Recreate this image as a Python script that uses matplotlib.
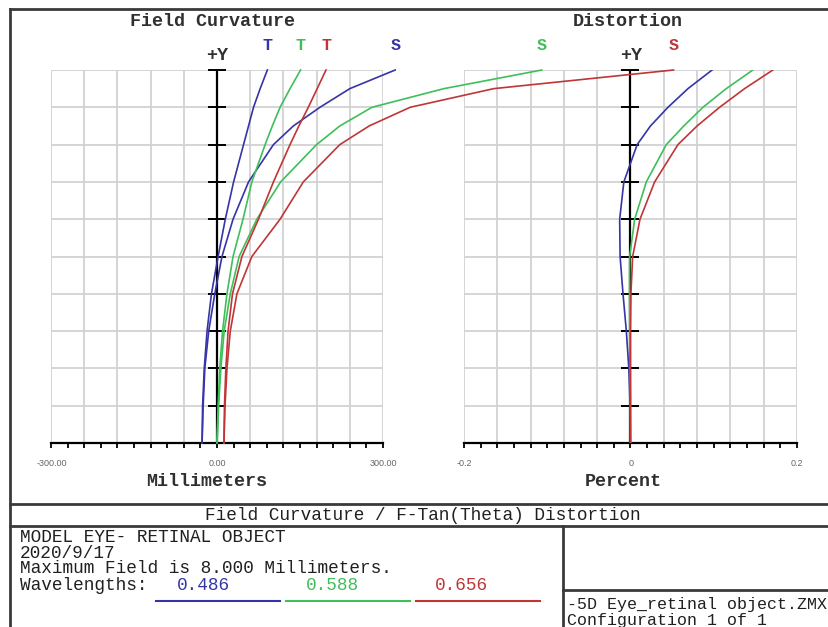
import numpy as np
import matplotlib
matplotlib.use("Agg")
import matplotlib.pyplot as plt
from matplotlib.lines import Line2D

W, H = 829, 627

# relative field height (mm), bottom to top
field = [0.0, 0.8, 1.6, 2.4, 3.2, 4.0, 4.8, 5.6, 6.4, 6.8, 7.2, 7.6, 8.0]

# field curvature in millimeters (T = tangential, S = sagittal)
fc_486_t = [-27, -26, -23, -18, -10, 2, 15, 30, 48, 57, 66, 78, 91]
fc_486_s = [-27, -25, -22, -15, -4, 9, 29, 57, 102, 138, 186, 240, 322]
fc_588_t = [0, 2, 5, 10, 18, 29, 47, 63, 87, 100, 114, 132, 151]
fc_588_s = [0, 3, 7, 13, 24, 40, 72, 115, 180, 222, 280, 410, 587]
fc_656_t = [12.6, 13.5, 16, 20, 28, 45, 75, 102, 132, 148, 165, 181, 197]
fc_656_s = [12.6, 14.5, 18, 24, 36, 63, 114, 156, 222, 275, 349, 500, 825]

# f-tan(theta) distortion in percent
dist_486 = [0, -0.0005, -0.002, -0.005, -0.009, -0.0125, -0.013, -0.008, 0.008, 0.024, 0.045, 0.069, 0.098]
dist_588 = [0, 0, -0.0005, -0.001, -0.0012, -0.001, 0.005, 0.019, 0.043, 0.064, 0.087, 0.115, 0.147]
dist_656 = [0, 0, 0, 0, 0.0005, 0.0026, 0.0114, 0.029, 0.057, 0.080, 0.107, 0.137, 0.171]

wavelengths = ["0.486", "0.588", "0.656"]
colors = ["#3535a5", "#3fbf5a", "#c03535"]

MONO = "Liberation Mono"
GRID = "#d2d2d2"


def px(x, y):
    return x / W, 1 - y / H


fig = plt.figure(figsize=(W / 100, H / 100), dpi=100)


def add_panel(x0, x1, xmin, xmax):
    top, bot = 70, 443
    ax = fig.add_axes([x0 / W, 1 - bot / H, (x1 - x0) / W, (bot - top) / H])
    ax.set_xlim(xmin, xmax)
    ax.set_ylim(0, 8)
    ax.axis("off")
    for gx in np.linspace(xmin, xmax, 11):
        ax.plot([gx, gx], [0, 8], color=GRID, lw=1.3, zorder=1)
    rows = np.linspace(0, 8, 11)
    for gy in rows:
        ax.plot([xmin, xmax], [gy, gy], color=GRID, lw=1.3, zorder=1)
    # x axis with ticks hanging below
    ax.plot([xmin, xmax], [0, 0], color="black", lw=1.6, zorder=3, clip_on=False)
    ax.vlines(np.linspace(xmin, xmax, 21), -5 * 8 / (bot - top), 0,
              color="black", lw=1.3, zorder=3, clip_on=False)
    # +Y axis with crossbars
    hw = 9 * (xmax - xmin) / (x1 - x0)
    ax.plot([0, 0], [0, 8], color="black", lw=1.6, zorder=3)
    ax.hlines(rows[1:], -hw, hw, color="black", lw=1.4, zorder=3, clip_on=False)
    return ax


ax1 = add_panel(51, 383, -300, 300)
ax2 = add_panel(464, 797, -0.2, 0.2)
ax1.set_zorder(2)

fc_pairs = [(fc_486_t, fc_486_s), (fc_588_t, fc_588_s), (fc_656_t, fc_656_s)]
for (t, s), c in zip(fc_pairs, colors):
    ax1.plot(t, field, color=c, lw=1.2, zorder=4, clip_on=False)
    ax1.plot(s, field, color=c, lw=1.2, zorder=4, clip_on=False)
    for vals, lab in ((t, "T"), (s, "S")):
        ax1.annotate(lab, (vals[-1], 8), xytext=(0, 18), textcoords="offset points",
                     ha="center", va="center", color=c, fontsize=12,
                     family=MONO, weight="bold", annotation_clip=False)

for d, c in zip([dist_486, dist_588, dist_656], colors):
    ax2.plot(d, field, color=c, lw=1.2, zorder=4)

# panel titles and axis labels
bold = dict(family=MONO, weight="bold", fontsize=13.2, color="#303030", ha="center", va="center")
fig.text(*px(213, 22), "Field Curvature", **bold)
fig.text(*px(628, 22), "Distortion", **bold)
fig.text(*px(217, 56), "+Y", **bold)
fig.text(*px(631, 56), "+Y", **bold)
fig.text(*px(207, 481), "Millimeters", **bold)
fig.text(*px(623, 481), "Percent", **bold)

small = dict(family="Liberation Sans", fontsize=6.5, color="#666666", ha="center", va="center")
for x, s in ((52, "-300.00"), (217, "0.00"), (383, "300.00"),
             (464, "-0.2"), (631, "0"), (797, "0.2")):
    fig.text(*px(x, 463), s, **small)

# frame lines
frame = dict(color="#3a3a3a", lw=2)
for (xa, ya), (xb, yb) in [((10, 9), (829, 9)), ((10, 9), (10, 627)),
                           ((10, 504), (829, 504)), ((10, 526), (829, 526)),
                           ((563, 526), (563, 627)), ((563, 590), (829, 590))]:
    (fx0, fy0), (fx1, fy1) = px(xa, ya), px(xb, yb)
    fig.add_artist(Line2D([fx0, fx1], [fy0, fy1], transform=fig.transFigure, **frame))

info = dict(family=MONO, fontsize=12.8, color="#202020", va="center")
fig.text(*px(423, 515), "Field Curvature / F-Tan(Theta) Distortion", ha="center", **info)

# header block: one text so the tight line pitch stays a single block
fig.text(*px(20, 529), "MODEL EYE- RETINAL OBJECT\n2020/9/17\nMaximum Field is 8.000 Millimeters.",
         ha="left", linespacing=0.9, **{**info, "va": "top"})
fig.text(*px(20, 586), "Wavelengths:", ha="left", **info)
for i, (w, c) in enumerate(zip(wavelengths, colors)):
    fig.text(*px(203 + 129 * i, 586), w, ha="center", **{**info, "color": c})
    xc = 218 + 130 * i
    (fx0, fy), (fx1, _) = px(xc - 62, 601), px(xc + 62, 601)
    fig.add_artist(Line2D([fx0, fx1], [fy, fy], transform=fig.transFigure, color=c, lw=1.5))

tail = {**info, "fontsize": 12}
fig.text(*px(567, 604), "-5D Eye_retinal object.ZMX", ha="left", **tail)
fig.text(*px(567, 620), "Configuration 1 of 1", ha="left", **tail)

fig.savefig("out.png", dpi=100, facecolor="white")
